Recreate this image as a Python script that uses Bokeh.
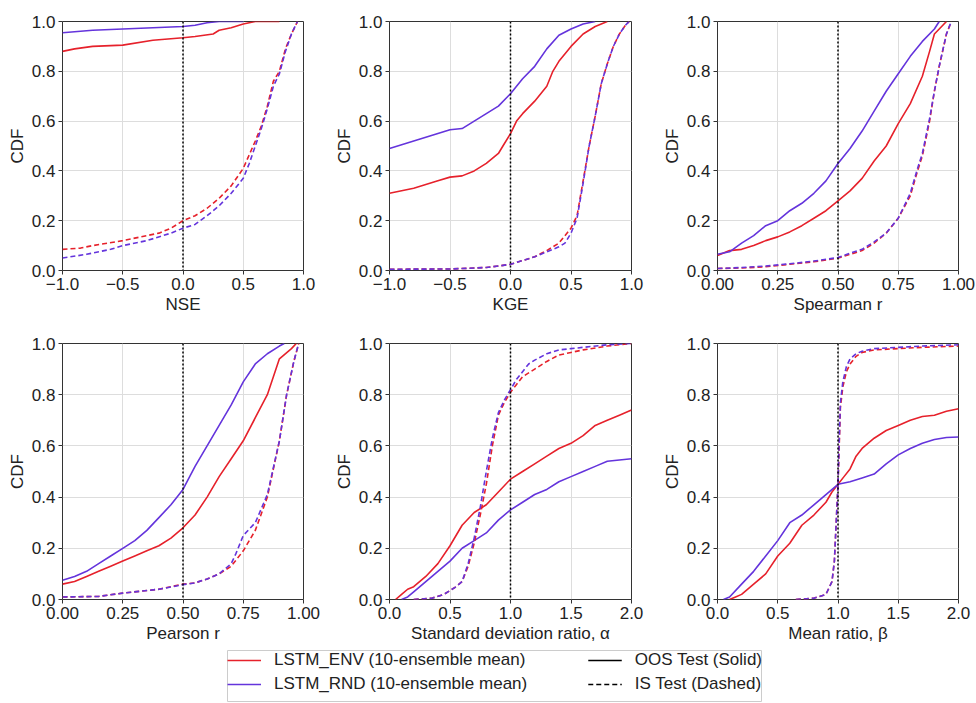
from bokeh.plotting import figure
from bokeh.layouts import gridplot, column, row
from bokeh.models import Span, Legend, LegendItem, FixedTicker, Range1d, Spacer
from bokeh.embed import file_html
from bokeh.resources import INLINE

RED = "#e6212b"
PURPLE = "#6434dc"
FONT = "Liberation Sans"

# ---------------- data ----------------
# Panel 1: NSE
nse_env_oos_x = [-1.0, -0.9, -0.75, -0.5, -0.25, 0.0, 0.1, 0.25, 0.3, 0.4, 0.5, 0.6, 0.8]
nse_env_oos_y = [0.88, 0.89, 0.90, 0.905, 0.925, 0.935, 0.94, 0.95, 0.965, 0.975, 0.99, 1.0, 1.0]
nse_rnd_oos_x = [-1.0, -0.75, -0.5, -0.25, 0.0, 0.1, 0.2, 0.3, 0.5]
nse_rnd_oos_y = [0.955, 0.965, 0.97, 0.975, 0.98, 0.985, 0.995, 1.0, 1.0]
nse_env_is_x = [-1.0, -0.85, -0.75, -0.5, -0.3, -0.2, -0.1, 0.0, 0.1, 0.2, 0.3, 0.4, 0.5, 0.6, 0.65, 0.7, 0.75, 0.8, 0.85, 0.9, 0.95]
nse_env_is_y = [0.085, 0.09, 0.10, 0.12, 0.14, 0.15, 0.17, 0.20, 0.22, 0.25, 0.29, 0.34, 0.41, 0.52, 0.58, 0.66, 0.76, 0.80, 0.89, 0.95, 1.0]
nse_rnd_is_x = [-1.0, -0.8, -0.6, -0.5, -0.3, -0.1, 0.0, 0.1, 0.2, 0.3, 0.4, 0.5, 0.55, 0.6, 0.65, 0.7, 0.75, 0.8, 0.85, 0.9, 0.95]
nse_rnd_is_y = [0.05, 0.065, 0.085, 0.10, 0.12, 0.15, 0.17, 0.185, 0.22, 0.26, 0.31, 0.37, 0.43, 0.50, 0.57, 0.65, 0.74, 0.79, 0.88, 0.95, 1.0]

# Panel 2: KGE
kge_env_oos_x = [-1.0, -0.8, -0.6, -0.5, -0.4, -0.3, -0.2, -0.1, -0.05, 0.0, 0.05, 0.1, 0.2, 0.3, 0.35, 0.4, 0.5, 0.6, 0.7, 0.8]
kge_env_oos_y = [0.31, 0.33, 0.36, 0.375, 0.38, 0.40, 0.43, 0.47, 0.51, 0.55, 0.60, 0.63, 0.68, 0.74, 0.80, 0.84, 0.90, 0.95, 0.98, 1.0]
kge_rnd_oos_x = [-1.0, -0.8, -0.6, -0.5, -0.4, -0.3, -0.2, -0.1, 0.0, 0.1, 0.2, 0.3, 0.4, 0.5, 0.6, 0.7]
kge_rnd_oos_y = [0.49, 0.52, 0.55, 0.565, 0.57, 0.60, 0.63, 0.66, 0.71, 0.77, 0.82, 0.89, 0.945, 0.97, 0.99, 1.0]
kge_env_is_x = [-1.0, -0.5, -0.2, -0.1, 0.0, 0.1, 0.2, 0.3, 0.4, 0.45, 0.5, 0.55, 0.6, 0.65, 0.7, 0.75, 0.8, 0.85, 0.9, 0.95, 0.98]
kge_env_is_y = [0.005, 0.006, 0.012, 0.018, 0.025, 0.04, 0.055, 0.08, 0.11, 0.14, 0.17, 0.22, 0.36, 0.50, 0.62, 0.75, 0.83, 0.90, 0.95, 0.985, 1.0]
kge_rnd_is_x = [-1.0, -0.5, -0.2, -0.1, 0.0, 0.1, 0.2, 0.3, 0.4, 0.45, 0.5, 0.55, 0.6, 0.65, 0.7, 0.75, 0.8, 0.85, 0.9, 0.95, 0.98]
kge_rnd_is_y = [0.005, 0.006, 0.012, 0.018, 0.025, 0.04, 0.055, 0.075, 0.095, 0.11, 0.15, 0.21, 0.35, 0.50, 0.62, 0.75, 0.83, 0.90, 0.95, 0.985, 1.0]

# Panel 3: Spearman r
spr_env_oos_x = [0.0, 0.05, 0.1, 0.15, 0.2, 0.25, 0.3, 0.35, 0.4, 0.45, 0.5, 0.55, 0.6, 0.65, 0.7, 0.75, 0.8, 0.85, 0.88, 0.9, 0.92, 0.95]
spr_env_oos_y = [0.06, 0.08, 0.085, 0.10, 0.12, 0.135, 0.155, 0.18, 0.21, 0.24, 0.28, 0.32, 0.37, 0.44, 0.50, 0.59, 0.67, 0.78, 0.88, 0.95, 0.97, 1.0]
spr_rnd_oos_x = [0.0, 0.05, 0.1, 0.15, 0.2, 0.25, 0.3, 0.35, 0.4, 0.45, 0.5, 0.55, 0.6, 0.65, 0.7, 0.75, 0.8, 0.85, 0.9, 0.92]
spr_rnd_oos_y = [0.065, 0.075, 0.11, 0.14, 0.18, 0.20, 0.24, 0.27, 0.31, 0.36, 0.43, 0.49, 0.56, 0.64, 0.72, 0.79, 0.86, 0.92, 0.97, 1.0]
spr_env_is_x = [0.0, 0.1, 0.2, 0.3, 0.4, 0.5, 0.55, 0.6, 0.65, 0.7, 0.75, 0.8, 0.83, 0.85, 0.88, 0.9, 0.92, 0.95, 0.97]
spr_env_is_y = [0.008, 0.01, 0.015, 0.025, 0.035, 0.05, 0.065, 0.08, 0.11, 0.15, 0.21, 0.30, 0.40, 0.46, 0.60, 0.72, 0.82, 0.95, 1.0]
spr_rnd_is_x = [0.0, 0.1, 0.2, 0.3, 0.4, 0.5, 0.55, 0.6, 0.65, 0.7, 0.75, 0.8, 0.83, 0.85, 0.88, 0.9, 0.92, 0.95, 0.97]
spr_rnd_is_y = [0.008, 0.012, 0.018, 0.027, 0.038, 0.052, 0.07, 0.085, 0.115, 0.15, 0.21, 0.31, 0.41, 0.47, 0.61, 0.72, 0.82, 0.95, 1.0]

# Panel 4: Pearson r
prs_env_oos_x = [0.0, 0.05, 0.1, 0.15, 0.2, 0.25, 0.3, 0.35, 0.4, 0.45, 0.5, 0.55, 0.6, 0.65, 0.7, 0.75, 0.8, 0.85, 0.9, 0.95, 0.97]
prs_env_oos_y = [0.06, 0.07, 0.09, 0.11, 0.13, 0.15, 0.17, 0.19, 0.21, 0.24, 0.28, 0.33, 0.40, 0.48, 0.55, 0.62, 0.71, 0.80, 0.94, 0.98, 1.0]
prs_rnd_oos_x = [0.0, 0.05, 0.1, 0.15, 0.2, 0.25, 0.3, 0.35, 0.4, 0.45, 0.5, 0.55, 0.6, 0.65, 0.7, 0.75, 0.8, 0.85, 0.9, 0.92]
prs_rnd_oos_y = [0.075, 0.09, 0.11, 0.14, 0.17, 0.20, 0.23, 0.27, 0.32, 0.37, 0.43, 0.52, 0.60, 0.68, 0.76, 0.85, 0.92, 0.96, 0.99, 1.0]
prs_env_is_x = [0.0, 0.15, 0.25, 0.4, 0.5, 0.55, 0.6, 0.65, 0.7, 0.75, 0.8, 0.85, 0.9, 0.93, 0.96, 0.98]
prs_env_is_y = [0.01, 0.012, 0.025, 0.04, 0.06, 0.065, 0.08, 0.10, 0.13, 0.19, 0.27, 0.40, 0.62, 0.80, 0.93, 1.0]
prs_rnd_is_x = [0.0, 0.15, 0.25, 0.4, 0.5, 0.55, 0.6, 0.65, 0.7, 0.72, 0.75, 0.8, 0.85, 0.9, 0.93, 0.96, 0.98]
prs_rnd_is_y = [0.01, 0.012, 0.025, 0.04, 0.058, 0.065, 0.08, 0.10, 0.14, 0.18, 0.25, 0.30, 0.41, 0.62, 0.80, 0.93, 1.0]

# Panel 5: Standard deviation ratio
std_env_oos_x = [0.05, 0.1, 0.15, 0.2, 0.3, 0.4, 0.5, 0.55, 0.6, 0.7, 0.8, 0.9, 1.0, 1.1, 1.2, 1.3, 1.4, 1.5, 1.6, 1.7, 1.8, 1.9, 2.0]
std_env_oos_y = [0.0, 0.02, 0.04, 0.05, 0.09, 0.14, 0.21, 0.25, 0.29, 0.34, 0.37, 0.42, 0.47, 0.50, 0.53, 0.56, 0.59, 0.61, 0.64, 0.68, 0.70, 0.72, 0.74]
std_rnd_oos_x = [0.1, 0.15, 0.2, 0.3, 0.4, 0.5, 0.6, 0.7, 0.8, 0.9, 1.0, 1.1, 1.2, 1.3, 1.4, 1.5, 1.6, 1.7, 1.8, 1.9, 2.0]
std_rnd_oos_y = [0.0, 0.01, 0.03, 0.07, 0.11, 0.15, 0.20, 0.23, 0.26, 0.31, 0.35, 0.38, 0.41, 0.43, 0.46, 0.48, 0.50, 0.52, 0.54, 0.545, 0.55]
std_env_is_x = [0.2, 0.35, 0.45, 0.55, 0.6, 0.65, 0.7, 0.75, 0.8, 0.85, 0.9, 0.95, 1.0, 1.05, 1.1, 1.2, 1.3, 1.4, 1.5, 1.6, 1.8, 2.0]
std_env_is_y = [0.0, 0.005, 0.02, 0.05, 0.07, 0.13, 0.22, 0.33, 0.45, 0.60, 0.72, 0.77, 0.81, 0.84, 0.87, 0.90, 0.93, 0.955, 0.965, 0.975, 0.99, 1.0]
std_rnd_is_x = [0.2, 0.35, 0.45, 0.55, 0.6, 0.65, 0.7, 0.75, 0.8, 0.85, 0.9, 0.95, 1.0, 1.05, 1.1, 1.15, 1.2, 1.3, 1.4, 1.5, 1.6, 1.8, 2.0]
std_rnd_is_y = [0.0, 0.005, 0.02, 0.05, 0.07, 0.14, 0.24, 0.36, 0.50, 0.63, 0.73, 0.78, 0.82, 0.86, 0.89, 0.92, 0.935, 0.96, 0.975, 0.98, 0.985, 0.995, 1.0]

# Panel 6: Mean ratio
mr_env_oos_x = [0.1, 0.15, 0.2, 0.3, 0.4, 0.5, 0.6, 0.7, 0.8, 0.9, 0.95, 1.0, 1.05, 1.1, 1.15, 1.2, 1.3, 1.4, 1.5, 1.6, 1.7, 1.8, 1.9, 2.0]
mr_env_oos_y = [0.0, 0.01, 0.02, 0.06, 0.10, 0.17, 0.22, 0.29, 0.33, 0.38, 0.42, 0.45, 0.48, 0.51, 0.56, 0.59, 0.63, 0.66, 0.68, 0.70, 0.715, 0.72, 0.735, 0.745]
mr_rnd_oos_x = [0.05, 0.1, 0.2, 0.3, 0.4, 0.5, 0.6, 0.7, 0.8, 0.9, 1.0, 1.1, 1.2, 1.3, 1.4, 1.5, 1.6, 1.7, 1.8, 1.9, 2.0]
mr_rnd_oos_y = [0.0, 0.01, 0.06, 0.11, 0.17, 0.23, 0.30, 0.33, 0.37, 0.41, 0.45, 0.46, 0.475, 0.49, 0.53, 0.565, 0.59, 0.61, 0.625, 0.633, 0.635]
mr_env_is_x = [0.65, 0.8, 0.9, 0.95, 0.97, 0.98, 0.99, 1.0, 1.01, 1.02, 1.04, 1.07, 1.1, 1.15, 1.2, 1.3, 1.5, 1.7, 2.0]
mr_env_is_y = [0.0, 0.005, 0.02, 0.07, 0.15, 0.25, 0.35, 0.45, 0.60, 0.75, 0.83, 0.89, 0.92, 0.95, 0.965, 0.975, 0.98, 0.985, 0.99]
mr_rnd_is_x = [0.65, 0.8, 0.9, 0.95, 0.97, 0.98, 0.99, 1.0, 1.01, 1.02, 1.04, 1.07, 1.1, 1.15, 1.2, 1.3, 1.5, 1.7, 2.0]
mr_rnd_is_y = [0.0, 0.005, 0.02, 0.07, 0.15, 0.25, 0.35, 0.45, 0.62, 0.77, 0.85, 0.91, 0.94, 0.96, 0.97, 0.98, 0.985, 0.99, 0.995]

y_ticks = [0.0, 0.2, 0.4, 0.6, 0.8, 1.0]
y_tick_labels = ["0.0", "0.2", "0.4", "0.6", "0.8", "1.0"]
ticks_pm1 = [-1.0, -0.5, 0.0, 0.5, 1.0]
labels_pm1 = ["\u22121.0", "\u22120.5", "0.0", "0.5", "1.0"]
ticks_01 = [0.0, 0.25, 0.5, 0.75, 1.0]
labels_01 = ["0.00", "0.25", "0.50", "0.75", "1.00"]
ticks_02 = [0.0, 0.5, 1.0, 1.5, 2.0]
labels_02 = ["0.0", "0.5", "1.0", "1.5", "2.0"]

legend_labels = ["LSTM_ENV (10-ensemble mean)", "LSTM_RND (10-ensemble mean)",
                 "OOS Test (Solid)", "IS Test (Dashed)"]

panels = [
    dict(label="NSE", xr=(-1, 1), ticks=ticks_pm1, labels=labels_pm1, ref=0.0,
         s=[(nse_env_oos_x, nse_env_oos_y, RED, "solid"), (nse_rnd_oos_x, nse_rnd_oos_y, PURPLE, "solid"),
            (nse_env_is_x, nse_env_is_y, RED, "dashed"), (nse_rnd_is_x, nse_rnd_is_y, PURPLE, "dashed")]),
    dict(label="KGE", xr=(-1, 1), ticks=ticks_pm1, labels=labels_pm1, ref=0.0,
         s=[(kge_env_oos_x, kge_env_oos_y, RED, "solid"), (kge_rnd_oos_x, kge_rnd_oos_y, PURPLE, "solid"),
            (kge_env_is_x, kge_env_is_y, RED, "dashed"), (kge_rnd_is_x, kge_rnd_is_y, PURPLE, "dashed")]),
    dict(label="Spearman r", xr=(0, 1), ticks=ticks_01, labels=labels_01, ref=0.5,
         s=[(spr_env_oos_x, spr_env_oos_y, RED, "solid"), (spr_rnd_oos_x, spr_rnd_oos_y, PURPLE, "solid"),
            (spr_env_is_x, spr_env_is_y, RED, "dashed"), (spr_rnd_is_x, spr_rnd_is_y, PURPLE, "dashed")]),
    dict(label="Pearson r", xr=(0, 1), ticks=ticks_01, labels=labels_01, ref=0.5,
         s=[(prs_env_oos_x, prs_env_oos_y, RED, "solid"), (prs_rnd_oos_x, prs_rnd_oos_y, PURPLE, "solid"),
            (prs_env_is_x, prs_env_is_y, RED, "dashed"), (prs_rnd_is_x, prs_rnd_is_y, PURPLE, "dashed")]),
    dict(label="Standard deviation ratio, \u03b1", xr=(0, 2), ticks=ticks_02, labels=labels_02, ref=1.0,
         s=[(std_env_oos_x, std_env_oos_y, RED, "solid"), (std_rnd_oos_x, std_rnd_oos_y, PURPLE, "solid"),
            (std_env_is_x, std_env_is_y, RED, "dashed"), (std_rnd_is_x, std_rnd_is_y, PURPLE, "dashed")]),
    dict(label="Mean ratio, \u03b2", xr=(0, 2), ticks=ticks_02, labels=labels_02, ref=1.0,
         s=[(mr_env_oos_x, mr_env_oos_y, RED, "solid"), (mr_rnd_oos_x, mr_rnd_oos_y, PURPLE, "solid"),
            (mr_env_is_x, mr_env_is_y, RED, "dashed"), (mr_rnd_is_x, mr_rnd_is_y, PURPLE, "dashed")]),
]

DASH = "5 3"

# column geometry: (left border, frame width, right border)
cols = [(62, 241, 26), (60, 242, 26), (60, 241, 18)]
rows = [(21, 255, 40), (27, 256, 51)]

figs = []
for i, pn in enumerate(panels):
    r, c = divmod(i, 3)
    lb, fw, rb = cols[c]
    tb, fh, bb = rows[r]
    p = figure(width=lb + fw + rb, height=tb + fh + bb, output_backend="svg",
               toolbar_location=None, x_range=Range1d(*pn["xr"]), y_range=Range1d(0, 1),
               min_border_left=lb, min_border_right=rb, min_border_top=tb, min_border_bottom=bb)
    p.background_fill_color = "white"
    p.border_fill_color = "white"
    p.outline_line_color = "#333333"
    p.outline_line_width = 1
    for xs, ys, col, dash in pn["s"]:
        p.line(xs, ys, line_color=col, line_width=1.6, line_dash="solid" if dash == "solid" else DASH)
    p.add_layout(Span(location=pn["ref"], dimension="height", line_color="black",
                      line_width=1.5, line_dash="2 2"))
    for ax in (p.xaxis[0], p.yaxis[0]):
        ax.axis_line_color = None
        ax.major_tick_line_color = "#333333"
        ax.major_tick_out = 4
        ax.major_tick_in = 0
        ax.minor_tick_line_color = None
        ax.major_label_text_font = FONT
        ax.major_label_text_font_size = "17px"
        ax.major_label_text_color = "#222222"
        ax.axis_label_text_font = FONT
        ax.axis_label_text_font_size = "17px"
        ax.axis_label_text_font_style = "normal"
        ax.axis_label_text_color = "#222222"
        ax.major_label_standoff = 3
        ax.axis_label_standoff = 2
    p.xaxis.ticker = FixedTicker(ticks=pn["ticks"])
    p.xaxis.major_label_overrides = {t: l for t, l in zip(pn["ticks"], pn["labels"])}
    p.yaxis.ticker = FixedTicker(ticks=y_ticks)
    p.yaxis.major_label_overrides = {t: l for t, l in zip(y_ticks, y_tick_labels)}
    p.xaxis.axis_label = pn["label"]
    p.yaxis.axis_label = "CDF"
    p.grid.grid_line_color = "#dddddd"
    p.grid.grid_line_width = 1
    figs.append(p)

grid = gridplot([figs[0:3], figs[3:6]], toolbar_location=None)

# legend box: a small figure whose outline is the legend frame
LEG_W, LEG_H = 535, 52
lg = figure(width=LEG_W, height=LEG_H, output_backend="svg", toolbar_location=None,
            x_range=Range1d(10, 11), y_range=Range1d(10, 11),
            min_border_left=0, min_border_right=0, min_border_top=0, min_border_bottom=0)
lg.axis.visible = False
lg.grid.visible = False
lg.outline_line_color = "#cccccc"
lg.outline_line_width = 1
# legend sample renderers (series data, kept outside the visible range of this box)
r_env = lg.line(nse_env_oos_x, nse_env_oos_y, line_color=RED, line_width=1.6)
r_rnd = lg.line(nse_rnd_oos_x, nse_rnd_oos_y, line_color=PURPLE, line_width=1.6)
r_oos = lg.line(nse_env_oos_x, nse_env_oos_y, line_color="black", line_width=1.6)
r_is = lg.line(nse_env_is_x, nse_env_is_y, line_color="black", line_width=1.6, line_dash=DASH)


def make_legend(items, loc, pad):
    lgd = Legend(items=items, location=loc, orientation="vertical")
    lgd.label_text_font = FONT
    lgd.label_text_font_size = "17px"
    lgd.label_text_color = "#222222"
    lgd.glyph_width = 34
    lgd.glyph_height = 20
    lgd.label_height = 20
    lgd.label_standoff = 13
    lgd.spacing = 4
    lgd.padding = pad
    lgd.margin = 0
    lgd.border_line_color = None
    lgd.background_fill_alpha = 0.0
    return lgd


leg_a = make_legend([LegendItem(label=legend_labels[0], renderers=[r_env]),
                     LegendItem(label=legend_labels[1], renderers=[r_rnd])], "top_left", 5)
leg_b = make_legend([LegendItem(label=legend_labels[2], renderers=[r_oos]),
                     LegendItem(label=legend_labels[3], renderers=[r_is])], "top_right", 5)
lg.add_layout(leg_a, "center")
lg.add_layout(leg_b, "center")

layout = column(grid, row(Spacer(width=227, height=LEG_H), lg, spacing=0), spacing=0)
open("out.html", "w").write(file_html(layout, INLINE))
